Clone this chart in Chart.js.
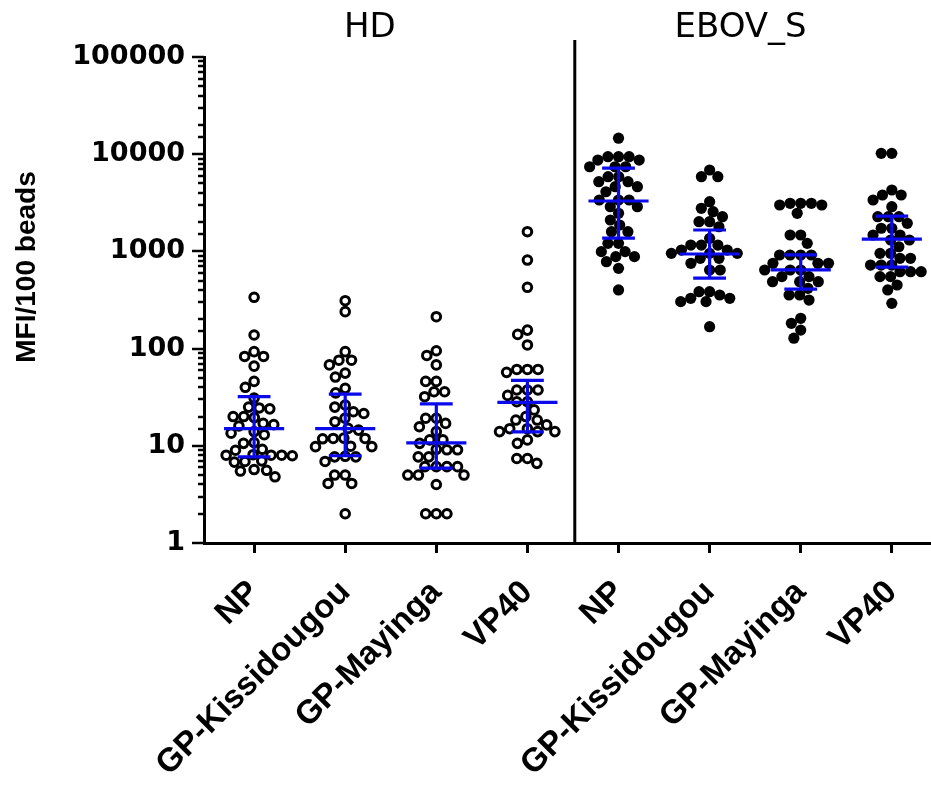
<!DOCTYPE html>
<html><head><meta charset="utf-8">
<script src="https://cdn.jsdelivr.net/npm/chart.js@4/dist/chart.umd.min.js"></script>
<style>html,body{margin:0;padding:0;background:#fff}#wrap{width:931px;height:788px}</style>
</head><body><div id="wrap"><canvas id="c" width="931" height="788"></canvas></div>
<script>
// ---------- data ----------
const categories = ['NP','GP-Kissidougou','GP-Mayinga','VP40','NP','GP-Kissidougou','GP-Mayinga','VP40'];
const groupNames = ['HD','EBOV_S'];
const yAxisTitle = 'MFI/100 beads';
const yTickLabels = [1,10,100,1000,10000,100000];

const hdNP = [337,138,93,83,83,66,46,40,31,24.5,24,25,20,20,19.5,16.5,16,17,13.5,13,14,10.6,10.8,9,9.2,8,8,8,8.1,7.9,6.9,7,6.8,5.6,5.7,5.5,4.8];
const hdGPK = [311,240,93,76,76,68,56,51,39,35,26.3,25,22.4,21.5,19.2,17.7,15.1,14.5,11.9,11.9,12,11.8,9.8,9.8,9.9,7.7,7.7,7.8,6.9,5,5,4.1,4.1,2];
const hdGPM = [213,95,85,68,46,46,36,36,32,19.2,19.2,17,15.7,14,11.5,11.5,10.6,9.1,9.1,9.2,7.7,7.7,6.1,6.1,6.1,6.1,5,5,5,4,2,2,2];
const hdVP40 = [1595,815,427,155,140,109,61,61,61,57,37.5,37.5,37.5,33,28.4,28.4,23.4,20,18.4,18.4,16.4,15,15,14,14,14,11.5,10.6,7.4,7.4,6.6];
const ebNP = [14600,9420,9420,9420,8710,8710,7430,7430,7430,5870,5870,5210,5210,4630,4630,4110,3380,3380,3380,2885,2885,2466,2105,1870,1595,1595,1210,1210,994,994,883,883,784,669,401];
const ebGPK = [6880,5870,5870,3245,2775,2560,2275,2020,2020,1794,1362,1163,1163,1163,1033,1033,955,955,955,849,849,754,644,644,385,385,356,329,329,304,304,168];
const ebGPM = [3125,3125,3125,3000,3000,2466,1475,1475,1210,918,918,918,918,754,754,754,644,644,644,550,550,488,488,488,417,356,356,316,205,182,155,128];
const ebVP40 = [10200,10200,4280,3805,3805,3380,2885,2275,2275,2275,1945,1730,1730,1475,1475,1310,1310,1117,955,955,849,849,724,724,724,618,618,618,550,550,451,401,292];

const seriesValues = [hdNP, hdGPK, hdGPM, hdVP40, ebNP, ebGPK, ebGPM, ebVP40];
const medians = [15, 15, 10.7, 28, 3300, 940, 645, 1340];
const q1 = [7.7, 7.9, 5.9, 13.9, 1370, 530, 410, 690];
const q3 = [32, 34, 27, 47, 7200, 1660, 920, 2310];

// ---------- chart ----------
const BLUE = 'rgb(10,10,235)';
const datasets = seriesValues.map((vals, i) => {
  const open = i < 4;
  return {
    label: groupNames[open ? 0 : 1] + ' ' + categories[i],
    data: vals.map(v => ({x: i, y: v})),
    pointRadius: open ? 4.3 : 5.6,
    pointHoverRadius: open ? 4.3 : 5.6,
    pointBorderWidth: open ? 3 : 0,
    pointBorderColor: '#000',
    pointBackgroundColor: open ? 'rgba(255,255,255,0)' : '#000',
  };
});

const decorPlugin = {
  id: 'decor',
  afterDatasetsDraw(chart) {
    const {ctx, scales: {x: xs, y: ys}} = chart;
    ctx.save();
    ctx.strokeStyle = BLUE;
    ctx.lineWidth = 3.2;
    for (let i = 0; i < categories.length; i++) {
      const cx = xs.getPixelForValue(i);
      const my = ys.getPixelForValue(medians[i]);
      const lo = ys.getPixelForValue(q1[i]);
      const hi = ys.getPixelForValue(q3[i]);
      ctx.beginPath();
      ctx.moveTo(xs.getPixelForValue(i - 0.33), my); ctx.lineTo(xs.getPixelForValue(i + 0.33), my);
      ctx.moveTo(cx, lo); ctx.lineTo(cx, hi);
      ctx.moveTo(xs.getPixelForValue(i - 0.18), lo); ctx.lineTo(xs.getPixelForValue(i + 0.18), lo);
      ctx.moveTo(xs.getPixelForValue(i - 0.18), hi); ctx.lineTo(xs.getPixelForValue(i + 0.18), hi);
      ctx.stroke();
    }
    ctx.restore();
  },
  afterDraw(chart) {
    const {ctx, scales: {x: xs, y: ys}, chartArea} = chart;
    ctx.save();
    ctx.strokeStyle = '#000';
    ctx.lineWidth = 2.5;
    ys.ticks.forEach(t => {
      const lg = Math.log10(t.value);
      const major = Math.abs(lg - Math.round(lg)) < 1e-9;
      const py = Math.round(ys.getPixelForValue(t.value));
      ctx.beginPath();
      ctx.moveTo(chartArea.left - (major ? 12 : 6), py);
      ctx.lineTo(chartArea.left, py);
      ctx.stroke();
    });
    const dx = xs.getPixelForValue(3.52);
    ctx.lineWidth = 3;
    ctx.beginPath();
    ctx.moveTo(dx, 40);
    ctx.lineTo(dx, chartArea.bottom);
    ctx.stroke();
    ctx.fillStyle = '#000';
    ctx.font = '34px "DejaVu Sans"';
    ctx.textAlign = 'center';
    ctx.textBaseline = 'middle';
    ctx.fillText(groupNames[0], xs.getPixelForValue(1.27), 28);
    ctx.fillText(groupNames[1], xs.getPixelForValue(5.34), 28);
    ctx.translate(27, 267);
    ctx.rotate(-Math.PI / 2);
    ctx.font = 'bold 28px "Liberation Sans"';
    ctx.fillText(yAxisTitle, 0, 0);
    ctx.restore();
  }
};

const chart = new Chart(document.getElementById('c'), {
  type: 'scatter',
  data: {datasets},
  plugins: [decorPlugin],
  options: {
    responsive: false,
    animation: false,
    events: [],
    layout: {autoPadding: false, padding: {top: 57, left: 0, right: 0, bottom: 0}},
    plugins: {legend: {display: false}, tooltip: {enabled: false}},
    scales: {
      x: {
        type: 'linear',
        min: -0.55,
        max: 7.43,
        afterFit: s => { s.height = 245; s.paddingRight = 0; s.paddingLeft = 0; },
        afterBuildTicks: s => { s.ticks = categories.map((c, i) => ({value: i})); },
        border: {display: true, color: '#000', width: 3},
        grid: {display: true, drawOnChartArea: false, color: '#000', lineWidth: 3, tickLength: 10},
        ticks: {
          autoSkip: false, minRotation: 45, maxRotation: 45, padding: 20,
          color: '#000', font: {family: 'Liberation Sans', weight: 'bold', size: 33},
          callback: v => categories[Math.round(v)] ?? ''
        }
      },
      y: {
        type: 'logarithmic',
        min: 1,
        max: 100000,
        afterFit: s => { s.width = 204; },
        border: {display: true, color: '#000', width: 3},
        grid: {display: true, drawOnChartArea: false, color: 'rgba(0,0,0,0)', tickLength: 12},
        title: {display: false},
        ticks: {
          autoSkip: false, padding: 7, color: '#000',
          font: {family: 'DejaVu Sans', weight: 'bold', size: 27},
          callback: v => yTickLabels.includes(v) ? String(v) : ''
        }
      }
    }
  }
});

(function swarm() {
  const xs = chart.scales.x, ys = chart.scales.y;
  const pxPerUnit = xs.getPixelForValue(1) - xs.getPixelForValue(0);
  const D = 10.6;
  chart.data.datasets.forEach((ds, i) => {
    const vals = seriesValues[i];
    const order = vals.map((v, k) => k).sort((a, b) => vals[b] - vals[a]);
    const placed = [];
    const offs = new Array(vals.length).fill(0);
    order.forEach(k => {
      const py = ys.getPixelForValue(vals[k]);
      const cands = [0];
      placed.forEach(p => {
        const dy = Math.abs(p.y - py);
        if (dy < D) { const d = Math.sqrt(D * D - dy * dy); cands.push(p.x + d, p.x - d); }
      });
      cands.sort((a, b) => Math.abs(a) - Math.abs(b) || a - b);
      let best = 0;
      for (const c of cands) {
        if (placed.every(p => (p.x - c) ** 2 + (p.y - py) ** 2 >= D * D - 0.01)) { best = c; break; }
      }
      placed.push({x: best, y: py});
      offs[k] = best;
    });
    ds.data = vals.map((v, k) => ({x: i + offs[k] / pxPerUnit, y: v}));
  });
  chart.update('none');
})();
</script>
</body></html>
